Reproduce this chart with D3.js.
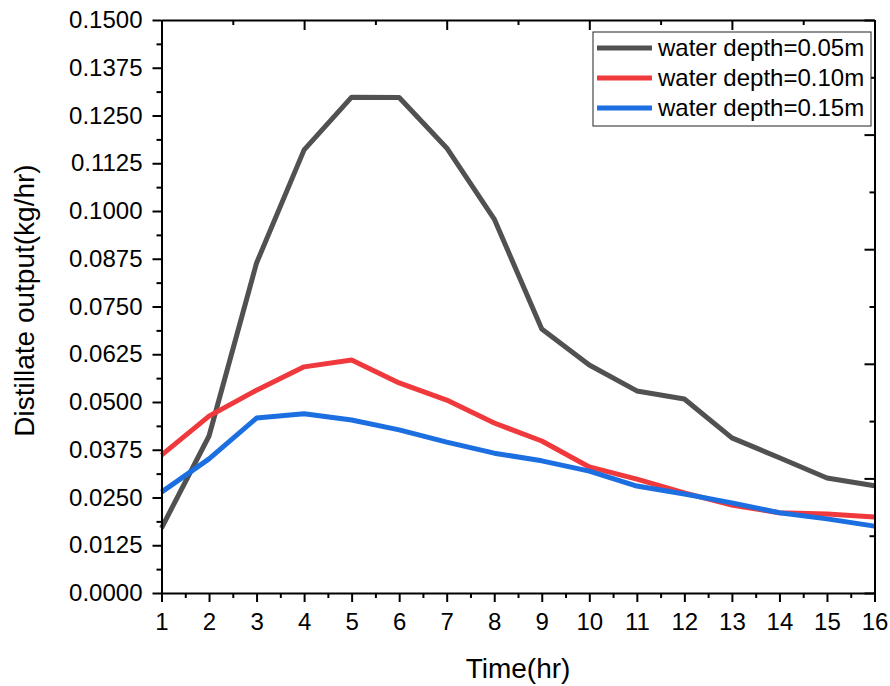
<!DOCTYPE html>
<html>
<head>
<meta charset="utf-8">
<script src="https://cdn.jsdelivr.net/npm/d3@7"></script>
<style>
  body { margin: 0; background: #fff; }
  text { font-family: "Liberation Sans", Arial, sans-serif; fill: #000; }
  .axis path, .axis line { stroke: #000; }
</style>
</head>
<body>
<div id="chart"></div>
<script>
// data
var hours = [1, 2, 3, 4, 5, 6, 7, 8, 9, 10, 11, 12, 13, 14, 15, 16];
var depth005 = [0.0170, 0.0411, 0.0864, 0.1160, 0.1298, 0.1297, 0.1165, 0.0979, 0.0691, 0.0597, 0.0529, 0.0508, 0.0406, 0.0354, 0.0301, 0.0281];
var depth010 = [0.0361, 0.0463, 0.0531, 0.0592, 0.0610, 0.0550, 0.0505, 0.0445, 0.0398, 0.0330, 0.0298, 0.0262, 0.0230, 0.0210, 0.0207, 0.0199];
var depth015 = [0.0264, 0.0351, 0.0458, 0.0469, 0.0453, 0.0427, 0.0395, 0.0366, 0.0346, 0.0319, 0.0280, 0.0259, 0.0236, 0.0210, 0.0194, 0.0175];
var seriesNames = ["water depth=0.05m", "water depth=0.10m", "water depth=0.15m"];
var seriesColors = ["#515151", "#f0393c", "#1c6fe0"];

var yTicks = [0, 0.0125, 0.025, 0.0375, 0.05, 0.0625, 0.075, 0.0875, 0.1, 0.1125, 0.125, 0.1375, 0.15];
var yMinor = [0.00625, 0.01875, 0.03125, 0.04375, 0.05625, 0.06875, 0.08125, 0.09375, 0.10625, 0.11875, 0.13125, 0.14375];
var xMinor = [1.5, 2.5, 3.5, 4.5, 5.5, 6.5, 7.5, 8.5, 9.5, 10.5, 11.5, 12.5, 13.5, 14.5, 15.5];
// top and right frame ticks use their own spacing
var frameMajor = [0, 1, 2, 3, 4, 5];
var frameMinor = [0.5, 1.5, 2.5, 3.5, 4.5];

var svgWidth = 890;
var svgHeight = 686;
var margin = { top: 20, right: 15.5, bottom: 93, left: 161.5 };
var width = svgWidth - margin.left - margin.right;
var height = svgHeight - margin.top - margin.bottom;

var svg = d3.select("#chart").append("svg")
  .attr("width", svgWidth)
  .attr("height", svgHeight);

var g = svg.append("g")
  .attr("transform", `translate(${margin.left}, ${margin.top})`);

var x = d3.scaleLinear().domain([1, 16]).range([0, width]);
var y = d3.scaleLinear().domain([0, 0.15]).range([height, 0]);
var xFrame = d3.scaleLinear().domain([0, 5]).range([0, width]);
var yFrame = d3.scaleLinear().domain([0, 5]).range([height, 0]);

// lines
var seriesData = [depth005, depth010, depth015];
var line = d3.line()
  .x((d, i) => x(hours[i]))
  .y(d => y(d));

g.selectAll(".series")
  .data(seriesData)
  .enter()
  .append("path")
  .attr("class", "series")
  .attr("d", d => line(d))
  .attr("fill", "none")
  .attr("stroke", (d, i) => seriesColors[i])
  .attr("stroke-width", 5)
  .attr("stroke-linejoin", "round");

// axes
function drawAxis(axis, shift, isMinor) {
  var a = g.append("g").attr("class", "axis")
    .attr("transform", shift)
    .call(axis);
  if (isMinor) a.select(".domain").remove();
  else a.select(".domain").attr("stroke-width", 2);
  a.selectAll(".tick line").attr("stroke-width", 2);
  a.selectAll("text").style("font-size", "24px");
  return a;
}

drawAxis(d3.axisLeft(y).tickValues(yTicks).tickFormat(d3.format(".4f")).tickSizeInner(9).tickSizeOuter(0).tickPadding(10), null, false);
drawAxis(d3.axisLeft(y).tickValues(yMinor).tickFormat("").tickSizeInner(5).tickSizeOuter(0), null, true);

drawAxis(d3.axisBottom(x).tickValues(hours).tickFormat(d3.format("d")).tickSizeInner(9).tickSizeOuter(0).tickPadding(11), `translate(0, ${height})`, false);
drawAxis(d3.axisBottom(x).tickValues(xMinor).tickFormat("").tickSizeInner(5).tickSizeOuter(0), `translate(0, ${height})`, true);

drawAxis(d3.axisTop(xFrame).tickValues(frameMajor).tickFormat("").tickSizeInner(-10).tickSizeOuter(0), null, false);
drawAxis(d3.axisTop(xFrame).tickValues(frameMinor).tickFormat("").tickSizeInner(-5).tickSizeOuter(0), null, true);

drawAxis(d3.axisRight(yFrame).tickValues(frameMajor).tickFormat("").tickSizeInner(-10).tickSizeOuter(0), `translate(${width}, 0)`, false);
drawAxis(d3.axisRight(yFrame).tickValues(frameMinor).tickFormat("").tickSizeInner(-5).tickSizeOuter(0), `translate(${width}, 0)`, true);

// axis titles
g.append("text")
  .attr("transform", "rotate(-90)")
  .attr("x", -(height / 2) + 6)
  .attr("y", 34 - margin.left)
  .attr("text-anchor", "middle")
  .style("font-size", "28px")
  .text("Distillate output(kg/hr)");

g.append("text")
  .attr("x", width / 2)
  .attr("y", height + 85)
  .attr("text-anchor", "middle")
  .style("font-size", "28px")
  .text("Time(hr)");

// legend
var legend = svg.append("g").attr("transform", "translate(593, 32)");
legend.append("rect")
  .attr("width", 278)
  .attr("height", 94)
  .attr("fill", "#fff")
  .attr("stroke", "#222")
  .attr("stroke-width", 1);

var items = legend.selectAll(".item")
  .data(seriesNames)
  .enter()
  .append("g")
  .attr("class", "item")
  .attr("transform", (d, i) => `translate(0, ${16 + i * 30})`);

items.append("line")
  .attr("x1", 4).attr("x2", 59)
  .attr("stroke", (d, i) => seriesColors[i])
  .attr("stroke-width", 5);

items.append("text")
  .attr("x", 65)
  .attr("dy", "0.35em")
  .style("font-size", "24px")
  .text(d => d);
</script>
</body>
</html>
